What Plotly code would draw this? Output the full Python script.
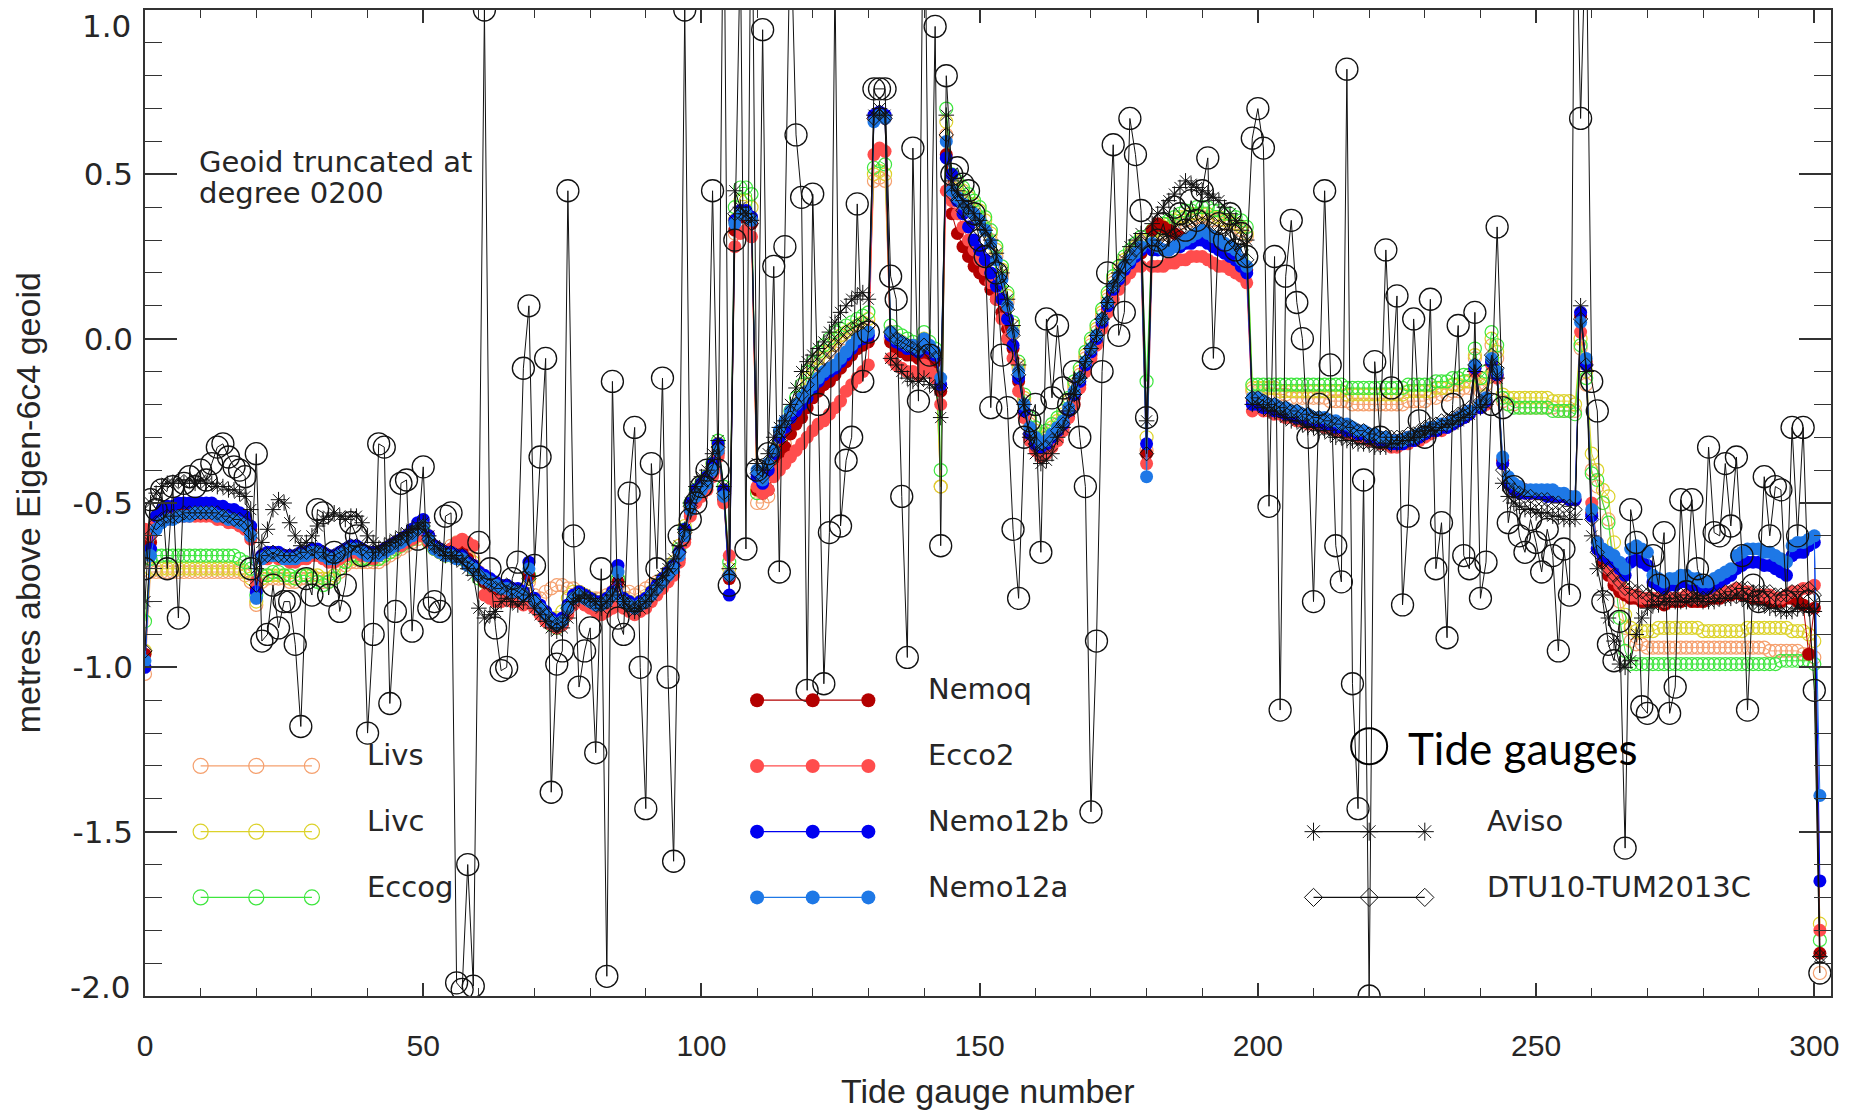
import plotly.graph_objects as go

# ---------------- data (values in cm, gauge index = position in list) ----------------
NEMO12A = [
-98,-66,-58,-56,-55,-55,-54,-54,-54,-53,
-53,-53,-53,-54,-54,-55,-55,-56,-57,-60,
-79,-67,-66,-66,-66,-67,-67,-67,-66,-66,
-65,-65,-66,-67,-67,-66,-65,-64,-64,-65,
-66,-66,-66,-65,-64,-63,-62,-61,-60,-58,
-57,-61,-64,-65,-66,-66,-67,-67,-69,-70,
-72,-73,-74,-75,-76,-76,-77,-77,-78,-70,
-80,-82,-84,-86,-87,-86,-82,-79,-78,-79,
-80,-81,-81,-80,-78,-71,-80,-81,-82,-81,
-80,-78,-76,-74,-72,-70,-66,-60,-52,-48,
-46,-44,-40,-34,-48,-72,35,38,38,36,
-40,-43,-38,-34,-28,-25,-22,-20,-18,-16,
-14,-12,-10,-9,-8,-6,-4,-2,0,1,
2,66,68,67,2,0,-1,-2,-2,-3,
0,-2,-4,-12,60,45,43,41,39,38,
36,33,29,24,18,10,2,-10,-20,-27,
-30,-32,-31,-29,-27,-25,-21,-16,-12,-7,
-3,1,6,11,16,19,22,24,26,28,
-42,29,28,27,27,28,29,30,31,32,
33,32,31,30,29,28,27,24,22,-18,
-18,-19,-20,-20,-21,-21,-22,-22,-23,-23,
-24,-24,-24,-25,-25,-26,-26,-27,-28,-28,
-29,-29,-30,-30,-31,-31,-31,-30,-30,-29,
-28,-27,-27,-26,-26,-25,-24,-23,-22,-8,
-20,-18,-6,-10,-36,-42,-44,-45,-46,-46,
-46,-46,-46,-46,-47,-47,-48,-48,5,-6,
-52,-62,-64,-65,-66,-68,-70,-64,-63,-64,
-65,-72,-73,-74,-73,-73,-72,-72,-73,-73,
-74,-74,-73,-72,-71,-70,-66,-65,-64,-64,
-64,-65,-65,-66,-67,-68,-63,-62,-62,-61,
-60,-139]

NEMO12B = [
-100,-64,-54,-52,-51,-51,-50,-50,-50,-50,
-50,-50,-50,-51,-51,-52,-52,-53,-54,-57,
-77,-66,-65,-65,-65,-66,-66,-66,-65,-65,
-64,-64,-65,-66,-66,-65,-64,-63,-63,-64,
-65,-65,-65,-64,-63,-62,-61,-60,-58,-56,
-55,-60,-63,-64,-65,-65,-66,-66,-68,-69,
-71,-72,-73,-74,-75,-75,-76,-76,-77,-68,
-79,-81,-83,-85,-86,-85,-81,-78,-77,-78,
-79,-80,-80,-79,-77,-69,-79,-80,-81,-80,
-79,-77,-75,-73,-71,-69,-65,-58,-50,-46,
-44,-42,-38,-32,-46,-78,36,39,39,37,
-42,-44,-40,-35,-30,-27,-24,-22,-20,-18,
-15,-13,-11,-10,-9,-7,-5,-3,-1,0,
1,68,69,68,1,-1,-2,-3,-3,-4,
-1,-3,-5,-14,55,50,42,38,34,30,
27,24,20,16,12,6,-2,-12,-22,-29,
-32,-33,-32,-30,-28,-26,-22,-17,-13,-8,
-4,0,5,10,15,18,21,23,25,27,
-32,27,27,27,27,28,28,29,29,30,
30,29,28,27,26,25,24,22,20,-20,
-20,-21,-21,-22,-22,-23,-23,-24,-24,-25,
-25,-25,-26,-26,-27,-27,-28,-28,-29,-29,
-30,-30,-31,-31,-32,-32,-32,-31,-31,-30,
-29,-28,-28,-27,-27,-26,-25,-24,-23,-9,
-21,-19,-7,-11,-38,-44,-46,-47,-47,-47,
-47,-47,-48,-48,-48,-48,-49,-49,8,-8,
-54,-64,-66,-67,-68,-70,-72,-68,-67,-68,
-69,-74,-75,-76,-75,-75,-74,-74,-75,-75,
-76,-76,-75,-74,-73,-72,-70,-69,-68,-68,
-68,-69,-69,-70,-71,-72,-66,-65,-65,-63,
-62,-165]

ECCO2 = [
-58,-60,-56,-55,-55,-54,-54,-54,-54,-54,
-54,-54,-54,-55,-55,-56,-56,-57,-58,-61,
-74,-67,-67,-66,-67,-67,-68,-68,-67,-67,
-66,-66,-67,-68,-68,-67,-66,-65,-65,-66,
-66,-67,-66,-65,-64,-63,-63,-62,-61,-60,
-60,-62,-64,-65,-66,-64,-62,-61,-62,-63,
-72,-78,-79,-80,-80,-79,-80,-80,-81,-79,
-82,-84,-86,-87,-88,-87,-84,-81,-80,-81,
-82,-83,-84,-83,-82,-80,-82,-83,-84,-83,
-82,-80,-78,-76,-74,-72,-68,-62,-54,-50,
-48,-46,-42,-36,-50,-66,28,32,33,31,
-45,-47,-46,-42,-40,-38,-36,-34,-32,-30,
-28,-26,-25,-23,-21,-19,-16,-14,-12,-10,
-8,56,58,57,-6,-8,-9,-10,-10,-11,
-8,-10,-12,-20,45,42,38,34,30,27,
24,21,17,12,6,0,-6,-16,-24,-31,
-34,-36,-35,-33,-31,-28,-24,-20,-15,-10,
-6,-2,3,8,12,15,18,20,22,22,
-38,22,22,22,23,23,24,24,25,25,
25,24,23,22,22,21,20,19,17,-22,
-21,-22,-22,-23,-23,-24,-24,-25,-25,-26,
-26,-26,-27,-27,-28,-28,-29,-29,-30,-30,
-31,-31,-32,-32,-33,-33,-32,-32,-31,-31,
-30,-29,-28,-28,-27,-26,-25,-24,-23,-10,
-21,-20,-8,-12,-38,-44,-45,-46,-47,-47,
-47,-47,-47,-48,-48,-48,-49,-49,2,-8,
-50,-62,-66,-70,-73,-75,-77,-78,-78,-79,
-79,-79,-79,-80,-79,-79,-79,-78,-79,-79,
-79,-78,-78,-78,-77,-77,-76,-77,-77,-78,
-78,-78,-78,-79,-79,-78,-77,-77,-76,-76,
-75,-180]

NEMOQ = [
-96,-62,-55,-53,-52,-52,-51,-51,-51,-51,
-51,-51,-51,-52,-52,-53,-53,-54,-55,-58,
-76,-66,-66,-65,-66,-66,-67,-67,-66,-66,
-65,-65,-66,-67,-67,-66,-65,-64,-64,-65,
-65,-66,-65,-64,-63,-62,-62,-61,-59,-57,
-56,-60,-63,-64,-65,-64,-64,-65,-67,-69,
-72,-74,-75,-76,-77,-76,-77,-78,-79,-72,
-81,-83,-85,-87,-88,-87,-83,-80,-79,-80,
-81,-82,-82,-81,-79,-74,-81,-82,-83,-82,
-81,-79,-77,-75,-73,-71,-67,-61,-53,-49,
-47,-45,-41,-35,-49,-73,33,37,37,35,
-46,-47,-46,-40,-36,-33,-29,-26,-24,-21,
-18,-16,-14,-13,-11,-9,-7,-5,-3,-2,
-1,67,68,67,-1,-3,-4,-5,-5,-6,
-3,-5,-7,-16,56,38,32,28,25,22,
20,18,15,12,8,3,-3,-13,-23,-30,
-33,-34,-33,-31,-29,-27,-23,-18,-14,-9,
-5,-1,4,9,14,17,20,22,24,26,
-35,33,35,34,33,32,31,30,30,31,
31,30,29,28,27,26,25,23,21,-19,
-19,-20,-21,-21,-22,-22,-23,-23,-24,-24,
-25,-25,-25,-26,-26,-27,-27,-28,-28,-29,
-29,-30,-30,-31,-31,-31,-31,-30,-30,-30,
-29,-28,-27,-27,-26,-25,-24,-23,-22,-9,
-20,-19,-7,-11,-37,-43,-45,-46,-46,-47,
-47,-47,-47,-47,-48,-48,-48,-49,7,-7,
-53,-64,-68,-72,-75,-77,-78,-79,-79,-80,
-80,-80,-80,-81,-80,-80,-80,-79,-80,-80,
-80,-79,-79,-79,-78,-78,-77,-78,-78,-79,
-79,-79,-80,-80,-80,-79,-79,-80,-81,-96,
-82,-187]

ECCOG = [
-86,-67,-66,-66,-66,-66,-66,-66,-66,-66,
-66,-66,-66,-66,-66,-66,-66,-67,-68,-70,
-78,-72,-72,-71,-71,-72,-72,-73,-72,-72,
-73,-74,-75,-74,-73,-70,-68,-66,-66,-67,
-67,-67,-67,-66,-65,-64,-63,-62,-61,-59,
-58,-62,-64,-65,-66,-66,-66,-67,-68,-70,
-73,-74,-75,-76,-77,-77,-78,-78,-79,-72,
-81,-83,-85,-87,-88,-86,-82,-79,-78,-79,
-80,-81,-82,-81,-79,-73,-80,-81,-82,-81,
-80,-78,-76,-74,-72,-69,-64,-58,-50,-46,
-44,-42,-38,-31,-45,-68,40,46,46,44,
-47,-45,-41,-36,-32,-27,-22,-18,-14,-10,
-7,-4,-2,0,2,3,4,5,6,7,
8,52,54,53,4,2,1,0,-1,-2,
2,-1,-3,-40,70,50,48,46,44,42,
40,37,33,28,22,14,5,-7,-17,-24,
-27,-29,-28,-26,-24,-22,-18,-13,-9,-4,
0,4,9,14,19,22,25,27,29,31,
-13,33,34,35,36,37,38,39,39,40,
40,40,39,39,38,38,37,36,34,-14,
-14,-14,-14,-14,-14,-14,-14,-14,-14,-14,
-14,-14,-14,-14,-14,-14,-15,-15,-15,-15,
-15,-15,-15,-15,-15,-15,-15,-14,-14,-14,
-14,-14,-13,-13,-13,-12,-12,-11,-11,-3,
-12,-10,2,-2,-18,-20,-21,-21,-21,-21,
-21,-21,-21,-22,-22,-22,-22,-23,-2,-12,
-41,-43,-50,-56,-70,-85,-95,-99,-99,-99,
-99,-99,-99,-99,-99,-99,-99,-99,-99,-99,
-99,-99,-99,-99,-99,-99,-99,-99,-99,-99,
-99,-99,-99,-99,-98,-98,-98,-98,-98,-98,
-99,-183]

LIVC = [
-95,-70,-70,-70,-70,-70,-70,-70,-70,-70,
-70,-70,-70,-70,-70,-70,-70,-70,-71,-73,
-80,-73,-72,-72,-72,-72,-73,-73,-72,-72,
-72,-72,-73,-73,-72,-70,-68,-67,-67,-67,
-67,-67,-67,-66,-65,-64,-63,-62,-61,-60,
-59,-62,-64,-65,-66,-65,-64,-64,-66,-68,
-72,-74,-75,-76,-77,-77,-78,-78,-79,-73,
-80,-82,-84,-85,-85,-83,-79,-77,-77,-78,
-79,-80,-80,-79,-78,-73,-79,-80,-81,-80,
-79,-77,-75,-73,-71,-68,-63,-57,-50,-46,
-44,-42,-38,-32,-46,-70,36,42,42,40,
-46,-46,-42,-37,-33,-29,-24,-20,-16,-12,
-9,-6,-4,-2,0,1,2,3,4,5,
6,50,51,50,2,0,-1,-2,-3,-4,
0,-3,-5,-45,66,48,47,45,43,41,
39,36,32,27,21,13,4,-8,-18,-25,
-28,-30,-29,-27,-25,-23,-19,-14,-10,-5,
-1,3,8,13,18,21,24,26,28,30,
-30,32,33,34,35,36,37,37,38,38,
38,38,37,37,36,36,35,34,32,-15,
-15,-15,-15,-15,-16,-16,-16,-16,-16,-16,
-16,-16,-16,-16,-16,-16,-17,-17,-17,-17,
-17,-17,-17,-17,-17,-17,-17,-16,-16,-16,
-16,-16,-15,-15,-15,-14,-14,-13,-13,-5,
-14,-12,0,-4,-17,-18,-18,-18,-18,-18,
-18,-18,-18,-19,-19,-19,-19,-20,0,-10,
-35,-40,-46,-48,-62,-75,-84,-88,-89,-89,
-89,-89,-88,-88,-88,-88,-88,-88,-88,-88,
-89,-89,-89,-89,-89,-89,-89,-89,-88,-88,
-88,-88,-88,-88,-88,-88,-89,-89,-89,-90,
-92,-178]

LIVS = [
-102,-71,-71,-71,-71,-71,-71,-71,-71,-71,
-71,-71,-71,-71,-71,-71,-71,-71,-72,-74,
-81,-74,-73,-73,-73,-73,-74,-74,-73,-73,
-73,-73,-74,-74,-73,-71,-69,-68,-68,-68,
-68,-68,-68,-67,-66,-65,-64,-63,-62,-61,
-60,-62,-64,-65,-65,-63,-62,-62,-64,-67,
-71,-73,-74,-75,-76,-76,-77,-77,-78,-74,
-78,-79,-77,-76,-75,-75,-76,-76,-77,-78,
-79,-79,-79,-78,-77,-75,-77,-77,-78,-77,
-76,-75,-74,-73,-71,-69,-65,-59,-52,-48,
-46,-44,-40,-34,-48,-72,32,38,38,36,
-50,-50,-48,-40,-36,-32,-27,-22,-18,-14,
-11,-8,-6,-4,-2,-1,0,1,2,3,
4,48,49,48,0,-2,-3,-4,-4,-5,
-2,-4,-6,-45,62,46,45,43,41,39,
37,34,30,25,19,11,2,-9,-19,-26,
-29,-31,-30,-28,-26,-24,-20,-15,-11,-6,
-2,2,7,12,17,20,23,25,27,29,
-34,30,31,32,33,34,35,36,36,37,
37,37,36,36,35,35,34,33,31,-16,
-16,-16,-17,-17,-17,-17,-18,-18,-18,-18,
-18,-18,-18,-19,-19,-19,-19,-20,-20,-20,
-20,-20,-20,-20,-20,-20,-20,-19,-19,-19,
-19,-18,-18,-17,-17,-16,-16,-15,-15,-6,
-16,-14,-2,-6,-19,-20,-20,-21,-21,-21,
-21,-21,-21,-21,-22,-22,-22,-22,-3,-14,
-40,-45,-50,-55,-68,-80,-88,-92,-93,-93,
-94,-94,-94,-94,-94,-94,-94,-94,-94,-94,
-94,-94,-94,-94,-94,-94,-94,-94,-94,-94,
-94,-94,-95,-95,-95,-95,-95,-95,-96,-96,
-97,-193]

AVISO = [
-80,-50,-47,-45,-44,-44,-43,-44,-43,-44,
-43,-44,-44,-45,-45,-46,-46,-47,-48,-52,
-70,-62,-58,-52,-49,-50,-56,-60,-63,-62,
-60,-57,-55,-54,-53,-54,-55,-54,-54,-56,
-60,-62,-64,-63,-62,-61,-60,-59,-58,-57,
-56,-60,-63,-64,-66,-66,-67,-68,-70,-72,
-82,-85,-84,-83,-80,-79,-80,-81,-80,-78,
-82,-84,-86,-88,-89,-88,-85,-80,-79,-78,
-79,-80,-82,-80,-78,-74,-80,-82,-83,-82,
-80,-78,-75,-72,-70,-67,-63,-58,-50,-45,
-42,-40,-35,-31,-45,-70,45,40,38,36,
-38,-40,-35,-30,-27,-25,-20,-15,-10,-7,
-5,-3,-1,2,5,8,10,12,13,14,
12,68,70,68,-6,-8,-10,-12,-13,-13,
-12,-14,-15,-24,68,48,45,42,40,38,
36,33,30,26,20,12,4,-8,-20,-30,
-35,-38,-37,-35,-30,-27,-22,-17,-12,-7,
-3,1,6,11,16,20,24,28,30,32,
-25,35,38,40,42,44,46,48,47,46,
45,44,43,42,40,38,36,33,30,-20,
-20,-21,-22,-22,-23,-24,-25,-25,-26,-27,
-27,-28,-28,-29,-30,-30,-31,-31,-32,-32,
-32,-33,-33,-33,-32,-32,-31,-31,-30,-30,
-29,-28,-28,-27,-26,-26,-25,-24,-23,-10,
-21,-20,-8,-12,-44,-48,-50,-51,-52,-52,
-53,-53,-53,-54,-54,-55,-55,-55,10,-10,
-60,-70,-78,-85,-92,-99,-100,-98,-90,-85,
-82,-81,-81,-80,-80,-80,-80,-80,-79,-79,
-80,-80,-80,-79,-79,-79,-78,-79,-80,-80,
-81,-81,-82,-82,-83,-83,-83,-82,-82,-82,
-83,-188]

DTU = [
-95,-60,-56,-55,-54,-54,-54,-53,-53,-53,
-53,-53,-53,-53,-54,-54,-55,-55,-56,-59,
-75,-66,-66,-65,-66,-66,-66,-66,-65,-65,
-64,-65,-65,-66,-66,-65,-64,-63,-63,-64,
-65,-65,-65,-64,-63,-62,-61,-60,-59,-58,
-57,-61,-63,-64,-65,-65,-66,-66,-68,-69,
-72,-74,-75,-76,-76,-75,-76,-77,-78,-73,
-80,-82,-84,-86,-87,-86,-82,-79,-78,-79,
-80,-81,-81,-80,-78,-75,-80,-81,-82,-81,
-80,-78,-76,-74,-72,-69,-65,-59,-51,-47,
-45,-43,-39,-33,-47,-72,38,38,37,35,
-41,-42,-38,-34,-31,-28,-24,-20,-17,-14,
-10,-8,-6,-4,-2,0,2,3,4,5,
4,67,69,67,2,0,-1,-2,-3,-4,
-2,-4,-6,-15,62,44,42,39,37,35,
33,30,27,22,16,9,1,-11,-22,-29,
-32,-34,-33,-31,-28,-26,-22,-17,-12,-7,
-3,1,6,11,16,19,22,25,27,29,
-35,30,30,30,31,32,33,34,35,36,
37,36,35,34,33,31,29,27,24,-18,
-18,-19,-20,-20,-21,-21,-22,-22,-23,-23,
-24,-24,-25,-25,-26,-26,-27,-27,-28,-28,
-29,-29,-30,-30,-30,-30,-30,-29,-29,-28,
-27,-26,-26,-25,-25,-24,-23,-22,-21,-8,
-19,-17,-5,-9,-40,-44,-46,-47,-48,-48,
-49,-49,-49,-50,-50,-51,-51,-52,6,-8,
-55,-65,-68,-70,-72,-74,-76,-76,-77,-77,
-78,-78,-79,-79,-79,-79,-78,-78,-79,-79,
-79,-79,-78,-78,-77,-77,-76,-76,-76,-77,
-77,-77,-77,-78,-78,-78,-77,-77,-77,-76,
-78,-188]

TIDE_GAUGES = [
-70,-49,-52,-46,-70,-45,-85,-44,-42,-45,
-40,-43,-38,-33,-32,-36,-39,-40,-42,-70,
-35,-92,-90,-75,-88,-80,-80,-93,-118,-73,
-78,-52,-53,-78,-65,-83,-75,-56,-60,-66,
-120,-90,-32,-33,-111,-83,-44,-43,-89,-61,
-39,-82,-80,-83,-54,-53,-196,-198,-160,-197,
-62,100,-70,-88,-101,-100,-73,-68,-9,10,
-69,-36,-6,-138,-99,-95,45,-60,-106,-95,
-88,-126,-70,-194,-13,-85,-90,-47,-27,-100,
-143,-38,-70,-12,-103,-159,-60,100,-55,-50,
-45,-40,45,-40,150,-75,30,120,-64,160,
-40,94,-35,22,-71,28,130,62,43,-107,
44,-20,-105,-59,110,-57,-37,-30,41,-13,
2,76,76,76,19,12,-48,-97,58,-19,
160,-5,95,-63,80,50,52,47,45,38,
30,25,-21,20,-5,-21,-58,-79,-30,-25,
-20,-65,6,-18,4,-15,-20,-10,-30,-45,
-144,-92,-10,20,59,1,8,67,56,39,
-24,25,30,35,28,40,38,33,42,36,
45,55,-6,35,30,38,27,32,25,61,
70,58,-51,25,-113,19,36,11,0,-30,
-80,-20,45,-8,-63,-74,82,-105,-143,-43,
-200,-7,-30,27,-15,13,-81,-54,6,-25,
-30,12,-70,-56,-91,-20,4,-66,-70,8,
-79,-68,-20,34,-21,-56,-45,-60,-65,-55,
-62,-71,-58,-66,-95,-64,-78,150,67,130,
-13,-22,-80,-93,-98,-86,-155,-52,-62,-112,
-114,-66,-75,-59,-114,-106,-49,-77,-49,-70,
-75,-33,-59,-60,-38,-57,-36,-66,-113,-75,
-80,-42,-60,-45,-46,-80,-27,-60,-27,-80,
-107,-193]

X_TICKS = [0, 50, 100, 150, 200, 250, 300]
X_TICK_LABELS = ["0", "50", "100", "150", "200", "250", "300"]
Y_TICKS = [-2.0, -1.5, -1.0, -0.5, 0.0, 0.5, 1.0]
Y_TICK_LABELS = ["-2.0", "-1.5", "-1.0", "-0.5", "0.0", "0.5", "1.0"]

LEG_X_LEFT = [10, 20, 30]
LEG_X_MID = [110, 120, 130]
LEG_X_RIGHT = [210, 220, 230]

C_LIVS = "#f5a06e"
C_LIVC = "#dcd22a"
C_ECCOG = "#3ee63e"
C_NEMOQ = "#b30000"
C_ECCO2 = "#ff4d4d"
C_N12B = "#0000f0"
C_N12A = "#1e78e6"

TXT = "#262626"
WIDE = "DejaVu Sans, Verdana, sans-serif"
PLAIN = "Liberation Sans, Arial, sans-serif"

fig = go.Figure()


def series(vals_cm, color, symbol, size, lw=1.2, line_w=1.0):
    y = [v / 100.0 for v in vals_cm]
    x = list(range(len(y)))
    fig.add_trace(go.Scatter(
        x=x, y=y, mode="lines+markers",
        line=dict(color=color, width=line_w),
        marker=dict(symbol=symbol, size=size, color=color,
                    line=dict(color=color, width=lw)),
        showlegend=False, hoverinfo="skip"))


series(LIVS, C_LIVS, "circle-open", 13)
series(LIVC, C_LIVC, "circle-open", 13)
series(ECCOG, C_ECCOG, "circle-open", 13)
series(NEMOQ, C_NEMOQ, "circle", 13, lw=0)
series(ECCO2, C_ECCO2, "circle", 13, lw=0)
series(NEMO12B, C_N12B, "circle", 13, lw=0)
series(NEMO12A, C_N12A, "circle", 13, lw=0)
series(AVISO, "#111111", "asterisk-open", 13, lw=1.0)
series(DTU, "#111111", "diamond-open", 11, lw=1.0)
series(TIDE_GAUGES, "#111111", "circle-open", 22, lw=1.3)


def legend_item(xs, yval, color, symbol, size, lw, label, lx):
    fig.add_trace(go.Scatter(
        x=xs, y=[yval] * len(xs), mode="lines+markers",
        line=dict(color=color, width=1.2),
        marker=dict(symbol=symbol, size=size, color=color,
                    line=dict(color=color, width=lw)),
        showlegend=False, hoverinfo="skip"))
    fig.add_annotation(x=lx, y=yval + 0.033, text=label, showarrow=False,
                       xanchor="left", yanchor="middle",
                       font=dict(family=WIDE, size=29, color=TXT))


legend_item(LEG_X_LEFT, -1.3, C_LIVS, "circle-open", 15, 1.2, "Livs", 39.6)
legend_item(LEG_X_LEFT, -1.5, C_LIVC, "circle-open", 15, 1.2, "Livc", 39.6)
legend_item(LEG_X_LEFT, -1.7, C_ECCOG, "circle-open", 15, 1.2, "Eccog", 39.6)
legend_item(LEG_X_MID, -1.1, C_NEMOQ, "circle", 14, 0, "Nemoq", 140.3)
legend_item(LEG_X_MID, -1.3, C_ECCO2, "circle", 14, 0, "Ecco2", 140.3)
legend_item(LEG_X_MID, -1.5, C_N12B, "circle", 14, 0, "Nemo12b", 140.3)
legend_item(LEG_X_MID, -1.7, C_N12A, "circle", 14, 0, "Nemo12a", 140.3)
legend_item(LEG_X_RIGHT, -1.5, "#111111", "asterisk-open", 15, 1.0, "Aviso", 240.8)
legend_item(LEG_X_RIGHT, -1.7, "#111111", "diamond-open", 14, 1.0, "DTU10-TUM2013C", 240.8)

fig.add_trace(go.Scatter(x=[220], y=[-1.24], mode="markers",
                         marker=dict(symbol="circle-open", size=36, color="#000000",
                                     line=dict(color="#000000", width=2)),
                         showlegend=False, hoverinfo="skip"))
fig.add_annotation(x=226.7, y=-1.245, text="Tide gauges", showarrow=False,
                   xanchor="left", yanchor="middle",
                   font=dict(family="Lato, Open Sans, sans-serif", size=44, color="#000000"))

fig.add_annotation(x=9.4, y=0.537, text="Geoid truncated at", showarrow=False,
                   xanchor="left", yanchor="middle",
                   font=dict(family=WIDE, size=29, color=TXT))
fig.add_annotation(x=9.4, y=0.443, text="degree 0200", showarrow=False,
                   xanchor="left", yanchor="middle",
                   font=dict(family=WIDE, size=29, color=TXT))

# axis titles
fig.add_annotation(xref="paper", yref="paper", x=0.5, y=-0.0963,
                   text="Tide gauge number", showarrow=False,
                   xanchor="center", yanchor="middle",
                   font=dict(family=PLAIN, size=34, color=TXT))
fig.add_annotation(xref="paper", yref="paper", x=-0.0692, y=0.5,
                   text="metres above Eigen-6c4 geoid", showarrow=False,
                   textangle=-90, xanchor="center", yanchor="middle",
                   font=dict(family=PLAIN, size=34, color=TXT))

# end labels of the y axis sit slightly inside the frame in the original
y_text = [t if 0 < i < len(Y_TICK_LABELS) - 1 else "" for i, t in enumerate(Y_TICK_LABELS)]
fig.add_annotation(xref="paper", yref="y", x=-0.0071, y=0.952, text=Y_TICK_LABELS[-1],
                   showarrow=False, xanchor="right", yanchor="middle",
                   font=dict(family=WIDE, size=31, color=TXT))
fig.add_annotation(xref="paper", yref="y", x=-0.0071, y=-1.972, text=Y_TICK_LABELS[0],
                   showarrow=False, xanchor="right", yanchor="middle",
                   font=dict(family=WIDE, size=31, color=TXT))

x_minor = [v for v in range(10, 301, 10) if v % 50 != 0]
y_minor = [round(-2.0 + 0.1 * i, 1) for i in range(1, 30) if i % 5 != 0]

# page body has an 8px default margin: figure is 8px smaller and margins compensate
fig.update_layout(
    width=1856, height=1107, autosize=False,
    margin=dict(l=137, r=33, t=2, b=119),
    paper_bgcolor="white", plot_bgcolor="white",
    showlegend=False,
    xaxis=dict(range=[0, 303], tickmode="array", tickvals=X_TICKS, ticktext=X_TICK_LABELS,
               ticks="inside", ticklen=13, tickwidth=1.5, tickcolor="#333",
               minor=dict(tickmode="array", tickvals=x_minor, ticks="inside",
                          ticklen=8, tickwidth=1.2, tickcolor="#333"),
               showline=True, linecolor="#333", linewidth=1.5, mirror="ticks",
               showgrid=False, zeroline=False, ticklabelstandoff=22, automargin=False,
               tickfont=dict(family=PLAIN, size=30, color=TXT)),
    yaxis=dict(range=[-2, 1], tickmode="array", tickvals=Y_TICKS, ticktext=y_text,
               ticks="inside", ticklen=32, tickwidth=1.5, tickcolor="#333",
               minor=dict(tickmode="array", tickvals=y_minor, ticks="inside",
                          ticklen=17, tickwidth=1.2, tickcolor="#333"),
               showline=True, linecolor="#333", linewidth=1.5, mirror="ticks",
               showgrid=False, zeroline=False, ticklabelstandoff=4, automargin=False,
               tickfont=dict(family=WIDE, size=31, color=TXT)),
)

fig.write_html("out.html")
